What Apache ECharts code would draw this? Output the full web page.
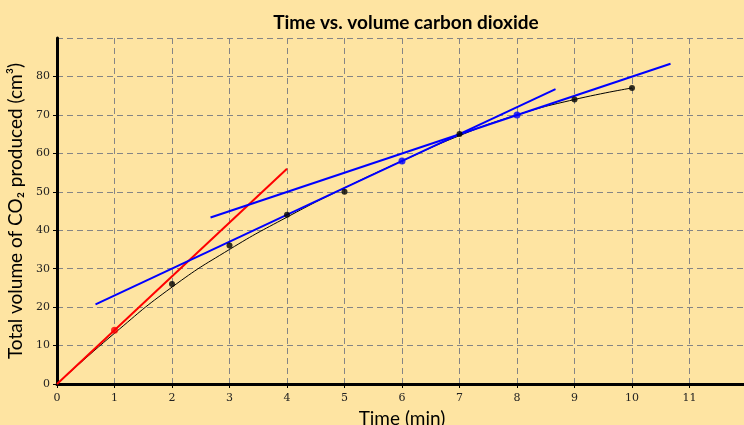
<!DOCTYPE html>
<html>
<head>
<meta charset="utf-8">
<script src="https://cdn.jsdelivr.net/npm/echarts@6/dist/echarts.min.js"></script>
<style>
  html, body { margin: 0; padding: 0; background: #fee4a2; }
  #chart { width: 744px; height: 425px; }
</style>
</head>
<body>
<div id="chart"></div>
<script>
// measured points (min, cm3)
const times = [1, 2, 3, 4, 5, 6, 7, 8, 9, 10];
const volumes = [14, 26, 36, 44, 50, 58, 65, 70, 74, 77];
// smooth best-fit curve through the data
const curveX = [0, 1, 2, 3, 4, 5, 6, 7, 8, 9, 10];
const curveY = [0, 13.2, 25.2, 35, 43.4, 51, 58, 64.6, 70, 74, 77];
// tangent lines [x0, y0, x1, y1]
const redTangent = [0, 0, 4, 56];
const blueTangent6 = [0.67, 20.7, 8.67, 76.7];
const blueTangent8 = [2.67, 43.3, 10.67, 83.3];
const redPoints = [1];
const bluePoints = [6, 8];

const chart = echarts.init(document.getElementById('chart'));

const pair = (t) => [[t[0], t[1]], [t[2], t[3]]];
const pts = (xs) => xs.map(x => [x, volumes[times.indexOf(x)]]);
const blackPts = times.filter(t => redPoints.indexOf(t) < 0 && bluePoints.indexOf(t) < 0);

const gridLine = { show: true, lineStyle: { color: '#858585', type: [6, 4], width: 1 } };

const option = {
  backgroundColor: '#fee4a2',
  animation: false,
  title: {
    text: 'Time vs. volume carbon dioxide',
    left: 401, top: 8, textAlign: 'center',
    textStyle: { fontFamily: 'Lato', fontWeight: 'bold', fontSize: 19, color: '#000' }
  },
  grid: { left: 57, right: -3, top: 38, bottom: 41, outerBoundsMode: 'none', containLabel: false },
  xAxis: {
    type: 'value', min: 0, max: 12, interval: 1,
    name: 'Time (min)', nameLocation: 'middle', nameGap: 25,
    nameTextStyle: { fontFamily: 'Lato', fontSize: 19, color: '#000' },
    axisLine: { lineStyle: { color: '#000', width: 3 } },
    axisTick: { length: 4, lineStyle: { color: '#000', width: 1 } },
    axisLabel: {
      fontFamily: 'DejaVu Serif', fontSize: 11, color: '#222', margin: 9,
      showMaxLabel: false,
      formatter: v => (v >= 12 ? '' : v)
    },
    splitLine: gridLine
  },
  yAxis: {
    type: 'value', min: 0, max: 90, interval: 10,
    name: 'Total volume of CO₂ produced (cm³)', nameLocation: 'middle', nameGap: 28,
    nameTextStyle: { fontFamily: 'Lato', fontSize: 19, color: '#000' },
    axisLine: { show: true, lineStyle: { color: '#000', width: 3 } },
    axisTick: { show: true, length: 4, lineStyle: { color: '#000', width: 1 } },
    axisLabel: {
      fontFamily: 'DejaVu Serif', fontSize: 11, color: '#222', margin: 7,
      showMaxLabel: false,
      formatter: v => (v >= 90 ? '' : v)
    },
    splitLine: gridLine
  },
  series: [
    {
      type: 'line', data: curveX.map((x, i) => [x, curveY[i]]),
      smooth: true, showSymbol: false,
      lineStyle: { color: '#000', width: 1 }, z: 2
    },
    {
      type: 'line', data: pair(redTangent), showSymbol: false,
      lineStyle: { color: '#ff0000', width: 2 }, z: 3
    },
    {
      type: 'line', data: pair(blueTangent6), showSymbol: false,
      lineStyle: { color: '#0000ff', width: 2 }, z: 3
    },
    {
      type: 'line', data: pair(blueTangent8), showSymbol: false,
      lineStyle: { color: '#0000ff', width: 2 }, z: 3
    },
    {
      type: 'scatter', data: pts(blackPts), symbolSize: 6,
      itemStyle: { color: '#000' }, z: 4
    },
    {
      type: 'scatter', data: pts(redPoints), symbolSize: 7,
      itemStyle: { color: '#ff0000' }, z: 4
    },
    {
      type: 'scatter', data: pts(bluePoints), symbolSize: 7,
      itemStyle: { color: '#0000ff' }, z: 4
    }
  ]
};

chart.setOption(option);
</script>
</body>
</html>
